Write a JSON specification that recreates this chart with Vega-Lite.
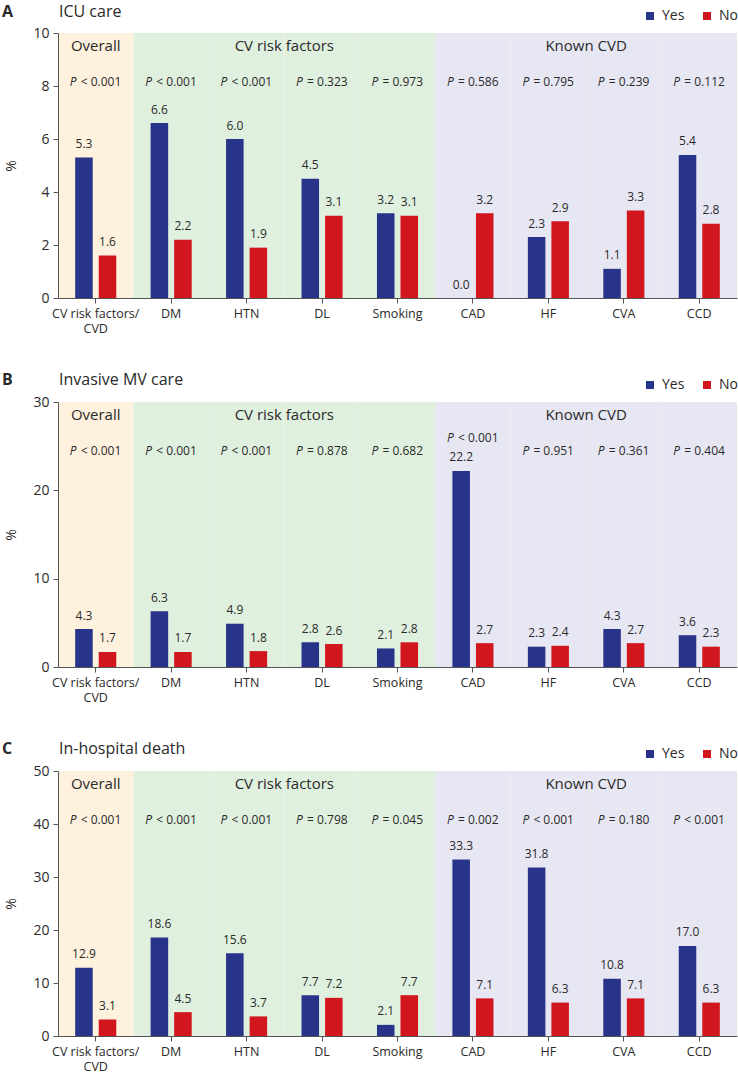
{
  "$schema": "https://vega.github.io/schema/vega-lite/v6.json",
  "background": "white",
  "padding": {"left": 2, "top": 4, "right": 0, "bottom": 0},
  "config": {
    "font": "Open Sans",
    "view": {"stroke": null},
    "text": {"color": "#2a2a2a"},
    "axis": {"labelColor": "#2a2a2a", "titleColor": "#2a2a2a", "domainColor": "#555555", "tickColor": "#555555", "grid": false},
    "legend": {"labelColor": "#2a2a2a"}
  },
  "datasets": {
    "cats": [
      {"cat": "CV risk factors/CVD", "section": "Overall"},
      {"cat": "DM", "section": "CV risk factors"},
      {"cat": "HTN", "section": "CV risk factors"},
      {"cat": "DL", "section": "CV risk factors"},
      {"cat": "Smoking", "section": "CV risk factors"},
      {"cat": "CAD", "section": "Known CVD"},
      {"cat": "HF", "section": "Known CVD"},
      {"cat": "CVA", "section": "Known CVD"},
      {"cat": "CCD", "section": "Known CVD"}
    ],
    "bars": [
      {"panel": "A", "cat": "CV risk factors/CVD", "group": "Yes", "value": 5.3},
      {"panel": "A", "cat": "CV risk factors/CVD", "group": "No", "value": 1.6},
      {"panel": "A", "cat": "DM", "group": "Yes", "value": 6.6},
      {"panel": "A", "cat": "DM", "group": "No", "value": 2.2},
      {"panel": "A", "cat": "HTN", "group": "Yes", "value": 6.0},
      {"panel": "A", "cat": "HTN", "group": "No", "value": 1.9},
      {"panel": "A", "cat": "DL", "group": "Yes", "value": 4.5},
      {"panel": "A", "cat": "DL", "group": "No", "value": 3.1},
      {"panel": "A", "cat": "Smoking", "group": "Yes", "value": 3.2},
      {"panel": "A", "cat": "Smoking", "group": "No", "value": 3.1},
      {"panel": "A", "cat": "CAD", "group": "Yes", "value": 0.0},
      {"panel": "A", "cat": "CAD", "group": "No", "value": 3.2},
      {"panel": "A", "cat": "HF", "group": "Yes", "value": 2.3},
      {"panel": "A", "cat": "HF", "group": "No", "value": 2.9},
      {"panel": "A", "cat": "CVA", "group": "Yes", "value": 1.1},
      {"panel": "A", "cat": "CVA", "group": "No", "value": 3.3},
      {"panel": "A", "cat": "CCD", "group": "Yes", "value": 5.4},
      {"panel": "A", "cat": "CCD", "group": "No", "value": 2.8},
      {"panel": "B", "cat": "CV risk factors/CVD", "group": "Yes", "value": 4.3},
      {"panel": "B", "cat": "CV risk factors/CVD", "group": "No", "value": 1.7},
      {"panel": "B", "cat": "DM", "group": "Yes", "value": 6.3},
      {"panel": "B", "cat": "DM", "group": "No", "value": 1.7},
      {"panel": "B", "cat": "HTN", "group": "Yes", "value": 4.9},
      {"panel": "B", "cat": "HTN", "group": "No", "value": 1.8},
      {"panel": "B", "cat": "DL", "group": "Yes", "value": 2.8},
      {"panel": "B", "cat": "DL", "group": "No", "value": 2.6},
      {"panel": "B", "cat": "Smoking", "group": "Yes", "value": 2.1},
      {"panel": "B", "cat": "Smoking", "group": "No", "value": 2.8},
      {"panel": "B", "cat": "CAD", "group": "Yes", "value": 22.2},
      {"panel": "B", "cat": "CAD", "group": "No", "value": 2.7},
      {"panel": "B", "cat": "HF", "group": "Yes", "value": 2.3},
      {"panel": "B", "cat": "HF", "group": "No", "value": 2.4},
      {"panel": "B", "cat": "CVA", "group": "Yes", "value": 4.3},
      {"panel": "B", "cat": "CVA", "group": "No", "value": 2.7},
      {"panel": "B", "cat": "CCD", "group": "Yes", "value": 3.6},
      {"panel": "B", "cat": "CCD", "group": "No", "value": 2.3},
      {"panel": "C", "cat": "CV risk factors/CVD", "group": "Yes", "value": 12.9},
      {"panel": "C", "cat": "CV risk factors/CVD", "group": "No", "value": 3.1},
      {"panel": "C", "cat": "DM", "group": "Yes", "value": 18.6},
      {"panel": "C", "cat": "DM", "group": "No", "value": 4.5},
      {"panel": "C", "cat": "HTN", "group": "Yes", "value": 15.6},
      {"panel": "C", "cat": "HTN", "group": "No", "value": 3.7},
      {"panel": "C", "cat": "DL", "group": "Yes", "value": 7.7},
      {"panel": "C", "cat": "DL", "group": "No", "value": 7.2},
      {"panel": "C", "cat": "Smoking", "group": "Yes", "value": 2.1},
      {"panel": "C", "cat": "Smoking", "group": "No", "value": 7.7},
      {"panel": "C", "cat": "CAD", "group": "Yes", "value": 33.3},
      {"panel": "C", "cat": "CAD", "group": "No", "value": 7.1},
      {"panel": "C", "cat": "HF", "group": "Yes", "value": 31.8},
      {"panel": "C", "cat": "HF", "group": "No", "value": 6.3},
      {"panel": "C", "cat": "CVA", "group": "Yes", "value": 10.8},
      {"panel": "C", "cat": "CVA", "group": "No", "value": 7.1},
      {"panel": "C", "cat": "CCD", "group": "Yes", "value": 17.0},
      {"panel": "C", "cat": "CCD", "group": "No", "value": 6.3}
    ],
    "pvals": [
      {"panel": "A", "cat": "CV risk factors/CVD", "p": "< 0.001"},
      {"panel": "A", "cat": "DM", "p": "< 0.001"},
      {"panel": "A", "cat": "HTN", "p": "< 0.001"},
      {"panel": "A", "cat": "DL", "p": "= 0.323"},
      {"panel": "A", "cat": "Smoking", "p": "= 0.973"},
      {"panel": "A", "cat": "CAD", "p": "= 0.586"},
      {"panel": "A", "cat": "HF", "p": "= 0.795"},
      {"panel": "A", "cat": "CVA", "p": "= 0.239"},
      {"panel": "A", "cat": "CCD", "p": "= 0.112"},
      {"panel": "B", "cat": "CV risk factors/CVD", "p": "< 0.001"},
      {"panel": "B", "cat": "DM", "p": "< 0.001"},
      {"panel": "B", "cat": "HTN", "p": "< 0.001"},
      {"panel": "B", "cat": "DL", "p": "= 0.878"},
      {"panel": "B", "cat": "Smoking", "p": "= 0.682"},
      {"panel": "B", "cat": "CAD", "p": "< 0.001"},
      {"panel": "B", "cat": "HF", "p": "= 0.951"},
      {"panel": "B", "cat": "CVA", "p": "= 0.361"},
      {"panel": "B", "cat": "CCD", "p": "= 0.404"},
      {"panel": "C", "cat": "CV risk factors/CVD", "p": "< 0.001"},
      {"panel": "C", "cat": "DM", "p": "< 0.001"},
      {"panel": "C", "cat": "HTN", "p": "< 0.001"},
      {"panel": "C", "cat": "DL", "p": "= 0.798"},
      {"panel": "C", "cat": "Smoking", "p": "= 0.045"},
      {"panel": "C", "cat": "CAD", "p": "= 0.002"},
      {"panel": "C", "cat": "HF", "p": "< 0.001"},
      {"panel": "C", "cat": "CVA", "p": "= 0.180"},
      {"panel": "C", "cat": "CCD", "p": "< 0.001"}
    ]
  },
  "spacing": 37,
  "resolve": {"scale": {"x": "independent", "y": "independent", "color": "independent"}, "legend": {"color": "independent"}},
  "vconcat": [
    {
      "width": 679, "height": 265,
      "layer": [
        {"data": {"name": "cats"}, "mark": {"type": "bar"},
         "encoding": {
           "x": {"field": "cat", "type": "nominal", "scale": {"domain": ["CV risk factors/CVD", "DM", "HTN", "DL", "Smoking", "CAD", "HF", "CVA", "CCD"], "paddingInner": 0, "paddingOuter": 0},
                 "axis": {"title": null, "labelAngle": 0, "labelFontSize": 12.5, "tickSize": 5, "labelPadding": 4, "labelLineHeight": 15, "zindex": 1, "labelExpr": "datum.value == 'CV risk factors/CVD' ? ['CV risk factors/', 'CVD'] : datum.label"}},
           "y": {"datum": 10, "type": "quantitative", "scale": {"domain": [0, 10], "nice": false},
                 "axis": {"title": "%", "values": [0, 2, 4, 6, 8, 10], "labelFontSize": 14, "titleFontSize": 14, "titleFontWeight": "normal", "tickSize": 5, "labelPadding": 4, "titlePadding": 14, "zindex": 1}},
           "fill": {"field": "section", "type": "nominal", "scale": {"domain": ["Overall", "CV risk factors", "Known CVD"], "range": ["#FEF2DF", "#E0F0DF", "#E7E7F3"]}, "legend": null}
         }},
        {"data": {"name": "bars"}, "transform": [{"filter": "datum.panel == 'A'"}], "mark": {"type": "bar"},
         "encoding": {
           "x": {"field": "cat", "type": "nominal"},
           "xOffset": {"field": "group", "type": "nominal", "sort": ["Yes", "No"], "scale": {"paddingInner": 0.255, "paddingOuter": 0.73}},
           "y": {"field": "value", "type": "quantitative"},
           "color": {"field": "group", "type": "nominal", "sort": ["Yes", "No"], "scale": {"domain": ["Yes", "No"], "range": ["#28348A", "#D2161E"]},
                     "legend": {"title": null, "orient": "none", "legendX": 585, "legendY": -24, "direction": "horizontal", "symbolType": "square", "symbolSize": 64, "labelFontSize": 14, "labelOffset": 5, "columnPadding": 15, "symbolStrokeWidth": 0}}
         }},
        {"data": {"name": "bars"}, "transform": [{"filter": "datum.panel == 'A'"}], "mark": {"type": "text", "fontSize": 12, "baseline": "middle", "dy": -13.5},
         "encoding": {
           "x": {"field": "cat", "type": "nominal"},
           "xOffset": {"field": "group", "type": "nominal", "sort": ["Yes", "No"]},
           "y": {"field": "value", "type": "quantitative"},
           "text": {"field": "value", "type": "quantitative", "format": ".1f"}
         }},
        {"data": {"name": "pvals"}, "transform": [{"filter": "datum.panel == 'A'"}], "mark": {"type": "text", "fontSize": 12, "fontStyle": "italic", "align": "left", "baseline": "middle", "dx": -26, "dy": 49},
         "encoding": {"x": {"field": "cat", "type": "nominal"}, "y": {"datum": 10, "type": "quantitative"}, "text": {"value": "P"}}},
        {"data": {"name": "pvals"}, "transform": [{"filter": "datum.panel == 'A'"}], "mark": {"type": "text", "fontSize": 12, "align": "left", "baseline": "middle", "dx": -15, "dy": 49},
         "encoding": {"x": {"field": "cat", "type": "nominal"}, "y": {"datum": 10, "type": "quantitative"}, "text": {"field": "p"}}},
        {"data": {"values": [{}]}, "mark": {"type": "text", "fontSize": 15, "baseline": "middle", "dy": 13},
         "encoding": {"x": {"datum": "CV risk factors/CVD", "bandPosition": 0.5}, "y": {"datum": 10, "type": "quantitative"}, "text": {"value": "Overall"}}},
        {"data": {"values": [{}]}, "mark": {"type": "text", "fontSize": 15, "baseline": "middle", "dy": 13},
         "encoding": {"x": {"datum": "HTN", "bandPosition": 1}, "y": {"datum": 10, "type": "quantitative"}, "text": {"value": "CV risk factors"}}},
        {"data": {"values": [{}]}, "mark": {"type": "text", "fontSize": 15, "baseline": "middle", "dy": 13},
         "encoding": {"x": {"datum": "HF", "bandPosition": 1}, "y": {"datum": 10, "type": "quantitative"}, "text": {"value": "Known CVD"}}},
        {"data": {"values": [{}]}, "mark": {"type": "text", "fontSize": 16, "align": "left", "baseline": "alphabetic", "dx": 1, "dy": -16},
         "encoding": {"x": {"datum": "CV risk factors/CVD", "bandPosition": 0}, "y": {"datum": 10, "type": "quantitative"}, "text": {"value": "ICU care"}}},
        {"data": {"values": [{}]}, "mark": {"type": "text", "fontSize": 16, "fontWeight": "bold", "align": "left", "baseline": "alphabetic", "dx": -56, "dy": -16},
         "encoding": {"x": {"datum": "CV risk factors/CVD", "bandPosition": 0}, "y": {"datum": 10, "type": "quantitative"}, "text": {"value": "A"}}}
      ]
    },
    {
      "width": 679, "height": 265,
      "layer": [
        {"data": {"name": "cats"}, "mark": {"type": "bar"},
         "encoding": {
           "x": {"field": "cat", "type": "nominal", "scale": {"domain": ["CV risk factors/CVD", "DM", "HTN", "DL", "Smoking", "CAD", "HF", "CVA", "CCD"], "paddingInner": 0, "paddingOuter": 0},
                 "axis": {"title": null, "labelAngle": 0, "labelFontSize": 12.5, "tickSize": 5, "labelPadding": 4, "labelLineHeight": 15, "zindex": 1, "labelExpr": "datum.value == 'CV risk factors/CVD' ? ['CV risk factors/', 'CVD'] : datum.label"}},
           "y": {"datum": 30, "type": "quantitative", "scale": {"domain": [0, 30], "nice": false},
                 "axis": {"title": "%", "values": [0, 10, 20, 30], "labelFontSize": 14, "titleFontSize": 14, "titleFontWeight": "normal", "tickSize": 5, "labelPadding": 4, "titlePadding": 14, "zindex": 1}},
           "fill": {"field": "section", "type": "nominal", "scale": {"domain": ["Overall", "CV risk factors", "Known CVD"], "range": ["#FEF2DF", "#E0F0DF", "#E7E7F3"]}, "legend": null}
         }},
        {"data": {"name": "bars"}, "transform": [{"filter": "datum.panel == 'B'"}], "mark": {"type": "bar"},
         "encoding": {
           "x": {"field": "cat", "type": "nominal"},
           "xOffset": {"field": "group", "type": "nominal", "sort": ["Yes", "No"], "scale": {"paddingInner": 0.255, "paddingOuter": 0.73}},
           "y": {"field": "value", "type": "quantitative"},
           "color": {"field": "group", "type": "nominal", "sort": ["Yes", "No"], "scale": {"domain": ["Yes", "No"], "range": ["#28348A", "#D2161E"]},
                     "legend": {"title": null, "orient": "none", "legendX": 585, "legendY": -24, "direction": "horizontal", "symbolType": "square", "symbolSize": 64, "labelFontSize": 14, "labelOffset": 5, "columnPadding": 15, "symbolStrokeWidth": 0}}
         }},
        {"data": {"name": "bars"}, "transform": [{"filter": "datum.panel == 'B'"}], "mark": {"type": "text", "fontSize": 12, "baseline": "middle", "dy": -13.5},
         "encoding": {
           "x": {"field": "cat", "type": "nominal"},
           "xOffset": {"field": "group", "type": "nominal", "sort": ["Yes", "No"]},
           "y": {"field": "value", "type": "quantitative"},
           "text": {"field": "value", "type": "quantitative", "format": ".1f"}
         }},
        {"data": {"name": "pvals"}, "transform": [{"filter": "datum.panel == 'B' && datum.cat != 'CAD'"}], "mark": {"type": "text", "fontSize": 12, "fontStyle": "italic", "align": "left", "baseline": "middle", "dx": -26, "dy": 49},
         "encoding": {"x": {"field": "cat", "type": "nominal"}, "y": {"datum": 30, "type": "quantitative"}, "text": {"value": "P"}}},
        {"data": {"name": "pvals"}, "transform": [{"filter": "datum.panel == 'B' && datum.cat != 'CAD'"}], "mark": {"type": "text", "fontSize": 12, "align": "left", "baseline": "middle", "dx": -15, "dy": 49},
         "encoding": {"x": {"field": "cat", "type": "nominal"}, "y": {"datum": 30, "type": "quantitative"}, "text": {"field": "p"}}},
        {"data": {"name": "pvals"}, "transform": [{"filter": "datum.panel == 'B' && datum.cat == 'CAD'"}], "mark": {"type": "text", "fontSize": 12, "fontStyle": "italic", "align": "left", "baseline": "middle", "dx": -26, "dy": -33},
         "encoding": {"x": {"field": "cat", "type": "nominal"}, "y": {"datum": 22.2, "type": "quantitative"}, "text": {"value": "P"}}},
        {"data": {"name": "pvals"}, "transform": [{"filter": "datum.panel == 'B' && datum.cat == 'CAD'"}], "mark": {"type": "text", "fontSize": 12, "align": "left", "baseline": "middle", "dx": -15, "dy": -33},
         "encoding": {"x": {"field": "cat", "type": "nominal"}, "y": {"datum": 22.2, "type": "quantitative"}, "text": {"field": "p"}}},
        {"data": {"values": [{}]}, "mark": {"type": "text", "fontSize": 15, "baseline": "middle", "dy": 13},
         "encoding": {"x": {"datum": "CV risk factors/CVD", "bandPosition": 0.5}, "y": {"datum": 30, "type": "quantitative"}, "text": {"value": "Overall"}}},
        {"data": {"values": [{}]}, "mark": {"type": "text", "fontSize": 15, "baseline": "middle", "dy": 13},
         "encoding": {"x": {"datum": "HTN", "bandPosition": 1}, "y": {"datum": 30, "type": "quantitative"}, "text": {"value": "CV risk factors"}}},
        {"data": {"values": [{}]}, "mark": {"type": "text", "fontSize": 15, "baseline": "middle", "dy": 13},
         "encoding": {"x": {"datum": "HF", "bandPosition": 1}, "y": {"datum": 30, "type": "quantitative"}, "text": {"value": "Known CVD"}}},
        {"data": {"values": [{}]}, "mark": {"type": "text", "fontSize": 16, "align": "left", "baseline": "alphabetic", "dx": 1, "dy": -17},
         "encoding": {"x": {"datum": "CV risk factors/CVD", "bandPosition": 0}, "y": {"datum": 30, "type": "quantitative"}, "text": {"value": "Invasive MV care"}}},
        {"data": {"values": [{}]}, "mark": {"type": "text", "fontSize": 16, "fontWeight": "bold", "align": "left", "baseline": "alphabetic", "dx": -56, "dy": -17},
         "encoding": {"x": {"datum": "CV risk factors/CVD", "bandPosition": 0}, "y": {"datum": 30, "type": "quantitative"}, "text": {"value": "B"}}}
      ]
    },
    {
      "width": 679, "height": 265,
      "layer": [
        {"data": {"name": "cats"}, "mark": {"type": "bar"},
         "encoding": {
           "x": {"field": "cat", "type": "nominal", "scale": {"domain": ["CV risk factors/CVD", "DM", "HTN", "DL", "Smoking", "CAD", "HF", "CVA", "CCD"], "paddingInner": 0, "paddingOuter": 0},
                 "axis": {"title": null, "labelAngle": 0, "labelFontSize": 12.5, "tickSize": 5, "labelPadding": 4, "labelLineHeight": 15, "zindex": 1, "labelExpr": "datum.value == 'CV risk factors/CVD' ? ['CV risk factors/', 'CVD'] : datum.label"}},
           "y": {"datum": 50, "type": "quantitative", "scale": {"domain": [0, 50], "nice": false},
                 "axis": {"title": "%", "values": [0, 10, 20, 30, 40, 50], "labelFontSize": 14, "titleFontSize": 14, "titleFontWeight": "normal", "tickSize": 5, "labelPadding": 4, "titlePadding": 14, "zindex": 1}},
           "fill": {"field": "section", "type": "nominal", "scale": {"domain": ["Overall", "CV risk factors", "Known CVD"], "range": ["#FEF2DF", "#E0F0DF", "#E7E7F3"]}, "legend": null}
         }},
        {"data": {"name": "bars"}, "transform": [{"filter": "datum.panel == 'C'"}], "mark": {"type": "bar"},
         "encoding": {
           "x": {"field": "cat", "type": "nominal"},
           "xOffset": {"field": "group", "type": "nominal", "sort": ["Yes", "No"], "scale": {"paddingInner": 0.255, "paddingOuter": 0.73}},
           "y": {"field": "value", "type": "quantitative"},
           "color": {"field": "group", "type": "nominal", "sort": ["Yes", "No"], "scale": {"domain": ["Yes", "No"], "range": ["#28348A", "#D2161E"]},
                     "legend": {"title": null, "orient": "none", "legendX": 585, "legendY": -24, "direction": "horizontal", "symbolType": "square", "symbolSize": 64, "labelFontSize": 14, "labelOffset": 5, "columnPadding": 15, "symbolStrokeWidth": 0}}
         }},
        {"data": {"name": "bars"}, "transform": [{"filter": "datum.panel == 'C'"}], "mark": {"type": "text", "fontSize": 12, "baseline": "middle", "dy": -13.5},
         "encoding": {
           "x": {"field": "cat", "type": "nominal"},
           "xOffset": {"field": "group", "type": "nominal", "sort": ["Yes", "No"]},
           "y": {"field": "value", "type": "quantitative"},
           "text": {"field": "value", "type": "quantitative", "format": ".1f"}
         }},
        {"data": {"name": "pvals"}, "transform": [{"filter": "datum.panel == 'C'"}], "mark": {"type": "text", "fontSize": 12, "fontStyle": "italic", "align": "left", "baseline": "middle", "dx": -26, "dy": 49},
         "encoding": {"x": {"field": "cat", "type": "nominal"}, "y": {"datum": 50, "type": "quantitative"}, "text": {"value": "P"}}},
        {"data": {"name": "pvals"}, "transform": [{"filter": "datum.panel == 'C'"}], "mark": {"type": "text", "fontSize": 12, "align": "left", "baseline": "middle", "dx": -15, "dy": 49},
         "encoding": {"x": {"field": "cat", "type": "nominal"}, "y": {"datum": 50, "type": "quantitative"}, "text": {"field": "p"}}},
        {"data": {"values": [{}]}, "mark": {"type": "text", "fontSize": 15, "baseline": "middle", "dy": 13},
         "encoding": {"x": {"datum": "CV risk factors/CVD", "bandPosition": 0.5}, "y": {"datum": 50, "type": "quantitative"}, "text": {"value": "Overall"}}},
        {"data": {"values": [{}]}, "mark": {"type": "text", "fontSize": 15, "baseline": "middle", "dy": 13},
         "encoding": {"x": {"datum": "HTN", "bandPosition": 1}, "y": {"datum": 50, "type": "quantitative"}, "text": {"value": "CV risk factors"}}},
        {"data": {"values": [{}]}, "mark": {"type": "text", "fontSize": 15, "baseline": "middle", "dy": 13},
         "encoding": {"x": {"datum": "HF", "bandPosition": 1}, "y": {"datum": 50, "type": "quantitative"}, "text": {"value": "Known CVD"}}},
        {"data": {"values": [{}]}, "mark": {"type": "text", "fontSize": 16, "align": "left", "baseline": "alphabetic", "dx": 1, "dy": -17},
         "encoding": {"x": {"datum": "CV risk factors/CVD", "bandPosition": 0}, "y": {"datum": 50, "type": "quantitative"}, "text": {"value": "In-hospital death"}}},
        {"data": {"values": [{}]}, "mark": {"type": "text", "fontSize": 16, "fontWeight": "bold", "align": "left", "baseline": "alphabetic", "dx": -56, "dy": -17},
         "encoding": {"x": {"datum": "CV risk factors/CVD", "bandPosition": 0}, "y": {"datum": 50, "type": "quantitative"}, "text": {"value": "C"}}}
      ]
    }
  ]
}
